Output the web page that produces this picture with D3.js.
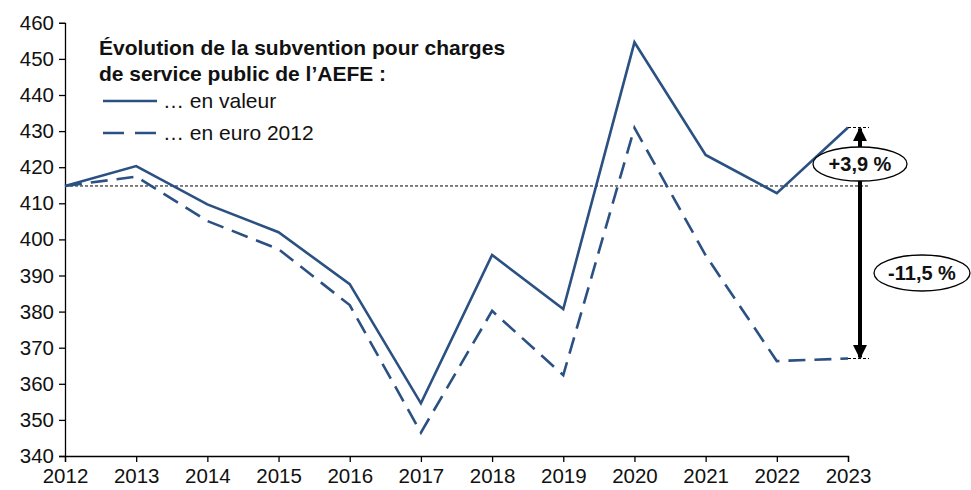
<!DOCTYPE html>
<html>
<head>
<meta charset="utf-8">
<script src="https://cdn.jsdelivr.net/npm/d3@7"></script>
<style>
  body { margin: 0; background: #fff; }
  svg { display: block; font-family: "Liberation Sans", Arial, sans-serif; }
</style>
</head>
<body>
<svg width="971" height="490"></svg>
<script>
const years = [2012, 2013, 2014, 2015, 2016, 2017, 2018, 2019, 2020, 2021, 2022, 2023];
const enValeur = [414.8, 420.3, 409.7, 402.0, 387.6, 354.6, 395.7, 380.7, 454.6, 423.4, 412.8, 431.0];
const enEuro2012 = [414.8, 417.4, 405.1, 397.3, 381.8, 346.5, 380.2, 362.4, 430.9, 395.6, 366.3, 367.0];
const yTicks = [340, 350, 360, 370, 380, 390, 400, 410, 420, 430, 440, 450, 460];
const legendTitle = ["Évolution de la subvention pour charges", "de service public de l’AEFE :"];
const legendItems = ["… en valeur", "… en euro 2012"];
const annotations = ["+3,9 %", "-11,5 %"];

const lineColor = '#2b5082';
const svg = d3.select('svg');

const x = d3.scaleLinear().domain([2012, 2023]).range([65, 848]);
const y = d3.scaleLinear().domain([340, 460]).range([456, 22.8]);

// axes
const yAxis = svg.append('g')
    .attr('transform', 'translate(65,0)')
    .call(d3.axisLeft(y).tickValues(yTicks).tickSize(6).tickPadding(5));
const xAxis = svg.append('g')
    .attr('transform', 'translate(0,456)')
    .call(d3.axisBottom(x).tickValues(years).tickFormat(d3.format('d')).tickSize(6).tickPadding(6));

[yAxis, xAxis].forEach(function (a) {
    a.select('.domain').attr('stroke', '#000').attr('stroke-width', 1.3);
    a.selectAll('.tick line').attr('stroke', '#000').attr('stroke-width', 1.3);
    a.selectAll('.tick text')
        .attr('fill', '#111')
        .style('font-family', '"Liberation Sans", Arial, sans-serif')
        .style('font-size', '20.5px');
});
xAxis.selectAll('.tick text').attr('dy', '0.75em');

// reference dashed line at 2012 level
svg.append('line')
    .attr('x1', x(2012)).attr('x2', 870)
    .attr('y1', y(enValeur[0])).attr('y2', y(enValeur[0]))
    .attr('stroke', '#000').attr('stroke-width', 1)
    .attr('stroke-dasharray', '3,2');

// short dashed markers at end values
[enValeur[11], enEuro2012[11]].forEach(function (v) {
    svg.append('line')
        .attr('x1', x(2023)).attr('x2', 869)
        .attr('y1', y(v)).attr('y2', y(v))
        .attr('stroke', '#000').attr('stroke-width', 1)
        .attr('stroke-dasharray', '3,2');
});

const line = d3.line()
    .x(function (d, i) { return x(years[i]); })
    .y(function (d) { return y(d); });

svg.append('path')
    .datum(enEuro2012)
    .attr('d', line)
    .attr('fill', 'none')
    .attr('stroke', lineColor)
    .attr('stroke-width', 2.6)
    .attr('stroke-dasharray', '17,9');

svg.append('path')
    .datum(enValeur)
    .attr('d', line)
    .attr('fill', 'none')
    .attr('stroke', lineColor)
    .attr('stroke-width', 2.6);

// arrows
const defs = svg.append('defs');
defs.append('marker')
    .attr('id', 'head')
    .attr('viewBox', '0 0 10 10')
    .attr('refX', 9).attr('refY', 5)
    .attr('markerWidth', 3.5).attr('markerHeight', 3.5)
    .attr('orient', 'auto')
    .attr('markerUnits', 'strokeWidth')
    .append('path')
    .attr('d', 'M0,0 L10,5 L0,10 Z')
    .attr('fill', '#000');

const ax = 860;
svg.append('line')
    .attr('x1', ax).attr('x2', ax)
    .attr('y1', y(enValeur[0])).attr('y2', y(enValeur[11]) + 1)
    .attr('stroke', '#000').attr('stroke-width', 4)
    .attr('marker-end', 'url(#head)');
svg.append('line')
    .attr('x1', ax).attr('x2', ax)
    .attr('y1', y(enValeur[0])).attr('y2', y(enEuro2012[11]) - 1)
    .attr('stroke', '#000').attr('stroke-width', 4)
    .attr('marker-end', 'url(#head)');

// labels in ellipses
const bubbles = [
    { text: annotations[0], cx: 860, cy: 164, rx: 47, ry: 17 },
    { text: annotations[1], cx: 922, cy: 273, rx: 48, ry: 18 }
];
bubbles.forEach(function (b) {
    svg.append('ellipse')
        .attr('cx', b.cx).attr('cy', b.cy)
        .attr('rx', b.rx).attr('ry', b.ry)
        .attr('fill', '#fff').attr('stroke', '#000').attr('stroke-width', 1.3);
    svg.append('text')
        .attr('x', b.cx).attr('y', b.cy)
        .attr('dy', '0.36em')
        .attr('text-anchor', 'middle')
        .attr('font-size', '20px')
        .attr('font-weight', 'bold')
        .attr('fill', '#111')
        .text(b.text);
});

// legend
const legend = svg.append('g');
legendTitle.forEach(function (t, i) {
    legend.append('text')
        .attr('x', 99).attr('y', 55 + i * 26)
        .attr('font-size', '21px')
        .attr('font-weight', 'bold')
        .attr('fill', '#111')
        .text(t);
});
legendItems.forEach(function (t, i) {
    const ly = 101 + i * 32;
    legend.append('line')
        .attr('x1', 103).attr('x2', 157)
        .attr('y1', ly).attr('y2', ly)
        .attr('stroke', lineColor)
        .attr('stroke-width', 2.6)
        .attr('stroke-dasharray', i === 1 ? '21,11' : null);
    legend.append('text')
        .attr('x', 163).attr('y', ly + 7)
        .attr('font-size', '21px')
        .attr('fill', '#111')
        .text(t);
});
</script>
</body>
</html>
